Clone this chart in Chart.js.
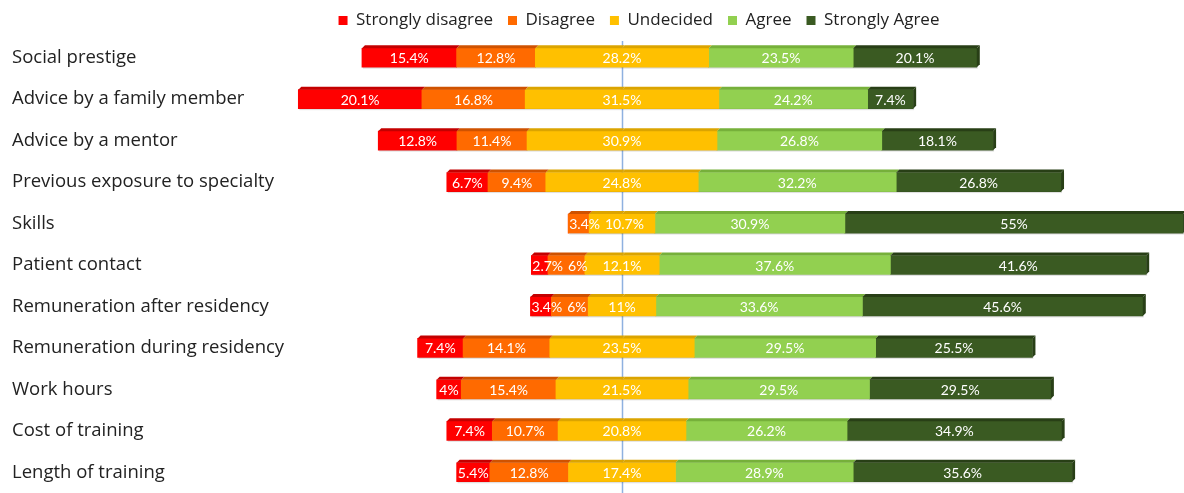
<!DOCTYPE html>
<html>
<head>
<meta charset="utf-8">
<title>Specialty choice factors</title>
<script src="https://cdn.jsdelivr.net/npm/chart.js@4.4.1/dist/chart.umd.min.js"></script>
<style>
    html, body { margin: 0; padding: 0; background: #fff; }
    #wrap { width: 1184px; height: 493px; position: relative; }
</style>
</head>
<body>
<div id="wrap"><canvas id="likertChart"></canvas></div>
<script>
// Data (percent of respondents)
const categories = [
    'Social prestige',
    'Advice by a family member',
    'Advice by a mentor',
    'Previous exposure to specialty',
    'Skills',
    'Patient contact',
    'Remuneration after residency',
    'Remuneration during residency',
    'Work hours',
    'Cost of training',
    'Length of training'
];
const stronglyDisagree = [15.4, 20.1, 12.8, 6.7, 0, 2.7, 3.4, 7.4, 4, 7.4, 5.4];
const disagree         = [12.8, 16.8, 11.4, 9.4, 3.4, 6, 6, 14.1, 15.4, 10.7, 12.8];
const undecided        = [28.2, 31.5, 30.9, 24.8, 10.7, 12.1, 11, 23.5, 21.5, 20.8, 17.4];
const agree            = [23.5, 24.2, 26.8, 32.2, 30.9, 37.6, 33.6, 29.5, 29.5, 26.2, 28.9];
const stronglyAgree    = [20.1, 7.4, 18.1, 26.8, 55, 41.6, 45.6, 25.5, 29.5, 34.9, 35.6];

// Colours: front face / top face
const COLORS = {
    sd: ['#ff0000', '#c40000'],
    d:  ['#ff6a00', '#cf5200'],
    u:  ['#ffc000', '#dba400'],
    a:  ['#92d050', '#76b03a'],
    sa: ['#3a5a22', '#283f16']
};
const DEPTH = 3;

// Undecided is split around the centre line
const undecidedLeft = undecided.map(v => -v / 2);
const undecidedRight = undecided.map(v => v / 2);

function bar(label, data, key, raw) {
    return {
        label: label,
        data: data,
        raw: raw,
        key: key,
        backgroundColor: COLORS[key][0],
        borderWidth: 0,
        barThickness: 19
    };
}

// negatives stack outward from 0 in dataset order
const datasets = [
    bar('Undecided', undecidedLeft, 'u', undecided),
    bar('Disagree', disagree.map(v => -v), 'd', disagree),
    bar('Strongly disagree', stronglyDisagree.map(v => -v), 'sd', stronglyDisagree),
    bar('Undecided', undecidedRight, 'u', null),
    bar('Agree', agree, 'a', agree),
    bar('Strongly Agree', stronglyAgree, 'sa', stronglyAgree)
];
const legendRank = { 'sd': 0, 'd': 1, 'u': 2, 'a': 3, 'sa': 4 };
// left-to-right order of the labelled datasets
const labelOrder = [2, 1, 0, 4, 5];

const barDecor = {
    id: 'barDecor',
    afterLayout(chart) {
        // move legend so it sits over the bars
        const lg = chart.legend;
        if (!lg) return;
        const shift = 639 - (lg.left + lg.right) / 2;
        lg.left += shift;
        lg.right += shift;
        lg.top += 2;
        lg.bottom += 2;
        if (lg.adjustHitBoxes) lg.adjustHitBoxes();
    },
    beforeDatasetsDraw(chart) {
        const ctx = chart.ctx;
        const x0 = Math.round(chart.scales.x.getPixelForValue(0)) + 0.5;
        ctx.save();
        ctx.strokeStyle = '#8eb1e0';
        ctx.lineWidth = 1.5;
        ctx.beginPath();
        ctx.moveTo(x0, chart.chartArea.top + 4);
        ctx.lineTo(x0, chart.chartArea.bottom);
        ctx.stroke();
        ctx.restore();
    },
    afterDatasetsDraw(chart) {
        const ctx = chart.ctx;
        const xScale = chart.scales.x;
        ctx.save();

        // 3D faces
        chart.data.datasets.forEach((ds, di) => {
            const meta = chart.getDatasetMeta(di);
            meta.data.forEach((el) => {
                const p = el.getProps(['x', 'base', 'y', 'height'], true);
                const x1 = Math.min(p.x, p.base);
                const x2 = Math.max(p.x, p.base);
                if (x2 - x1 < 0.5) return;
                const top = p.y - p.height / 2;
                const bottom = p.y + p.height / 2;
                ctx.fillStyle = COLORS[ds.key][1];
                ctx.beginPath();
                ctx.moveTo(x1, top);
                ctx.lineTo(x1 + DEPTH, top - DEPTH);
                ctx.lineTo(x2 + DEPTH, top - DEPTH);
                ctx.lineTo(x2, top);
                ctx.closePath();
                ctx.fill();
                if (ds.key === 'sa') {
                    ctx.beginPath();
                    ctx.moveTo(x2, top);
                    ctx.lineTo(x2 + DEPTH, top - DEPTH);
                    ctx.lineTo(x2 + DEPTH, bottom - DEPTH);
                    ctx.lineTo(x2, bottom);
                    ctx.closePath();
                    ctx.fill();
                }
            });
        });

        // soft shadow under each bar, and left edge of each bar
        const barLeft = [];
        const rightMeta = chart.getDatasetMeta(5);
        rightMeta.data.forEach((el, i) => {
            let l = el.base;
            [0, 1, 2].forEach(di => {
                const e = chart.getDatasetMeta(di).data[i];
                l = Math.min(l, e.x, e.base);
            });
            barLeft[i] = l;
            const r = Math.max(el.x, el.base);
            const bottom = el.y + el.height / 2;
            ctx.fillStyle = 'rgba(0,0,0,0.12)';
            ctx.fillRect(l + 1, bottom, r - l, 1.5);
        });

        // value labels, pushed right when they would overlap
        ctx.fillStyle = '#ffffff';
        ctx.font = '14px Lato';
        ctx.textAlign = 'center';
        ctx.textBaseline = 'middle';
        categories.forEach((cat, i) => {
            let prevRight = -Infinity;
            labelOrder.forEach(di => {
                const ds = chart.data.datasets[di];
                const el = chart.getDatasetMeta(di).data[i];
                const v = ds.raw[i];
                if (!v) return;
                const txt = v + '%';
                const w = ctx.measureText(txt).width;
                let cx = (el.x + el.base) / 2;
                if (ds.key === 'u') cx = xScale.getPixelForValue(0);
                cx = Math.max(cx, barLeft[i] + w / 2 + 1);
                if (cx - w / 2 < prevRight + 5) cx = prevRight + 5 + w / 2;
                prevRight = cx + w / 2;
                ctx.fillText(txt, cx, el.y + 1);
            });
        });
        ctx.restore();
    }
};

new Chart(document.getElementById('likertChart'), {
    type: 'bar',
    data: {
        labels: categories,
        datasets: datasets
    },
    options: {
        indexAxis: 'y',
        responsive: true,
        maintainAspectRatio: false,
        animation: false,
        layout: {
            autoPadding: false,
            padding: { left: 12, top: -5, right: 0, bottom: 0 }
        },
        plugins: {
            legend: {
                position: 'top',
                labels: {
                    boxWidth: 9,
                    boxHeight: 9,
                    padding: 15,
                    color: '#222',
                    font: { family: 'Open Sans', size: 17 },
                    filter: (item) => item.datasetIndex !== 3,
                    sort: (a, b) => legendRank[datasets[a.datasetIndex].key] - legendRank[datasets[b.datasetIndex].key]
                }
            },
            tooltip: { enabled: false },
            title: { display: false }
        },
        scales: {
            x: {
                stacked: true,
                min: -54,
                max: 91.4,
                display: false
            },
            y: {
                stacked: true,
                grid: { display: false },
                border: { display: false },
                ticks: {
                    crossAlign: 'far',
                    color: '#222',
                    font: { family: 'Open Sans', size: 18.5 }
                },
                afterFit: (scale) => {
                    scale.width = 278;
                    scale.paddingTop = 0;
                    scale.paddingBottom = 0;
                }
            }
        }
    },
    plugins: [barDecor]
});
</script>
</body>
</html>
